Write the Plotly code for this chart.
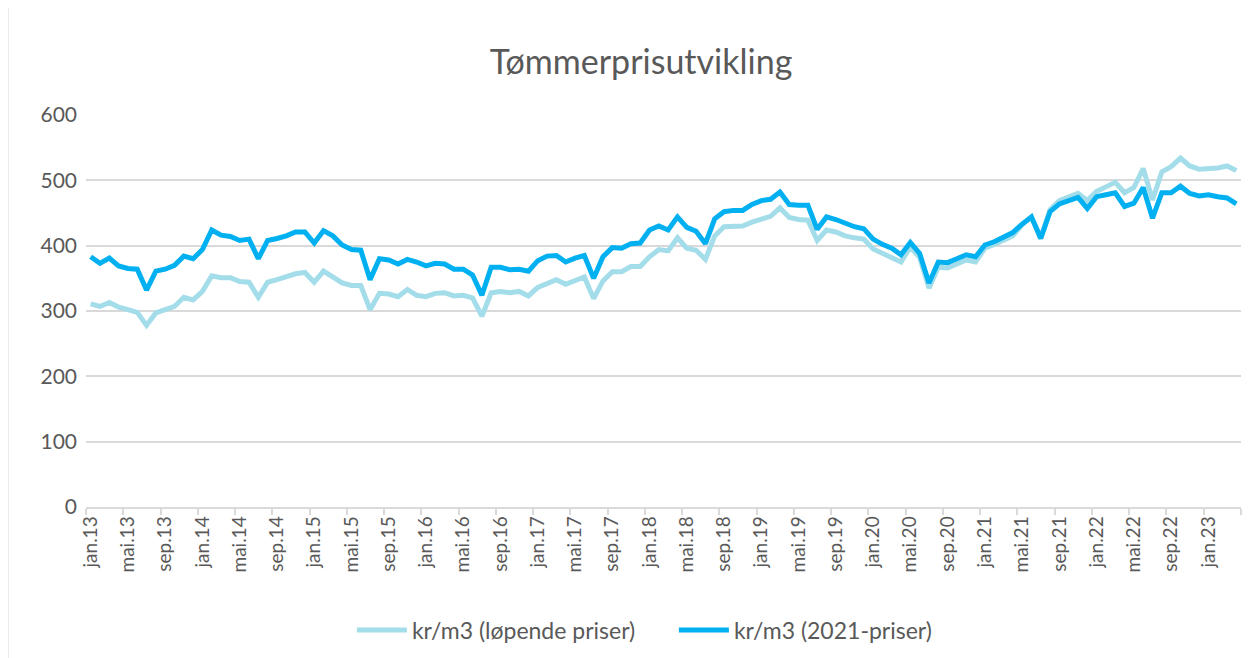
import plotly.graph_objects as go

MONTH_NAMES = ["jan", "feb", "mar", "apr", "mai", "jun", "jul", "aug", "sep", "okt", "nov", "des"]
YEARS = ["13", "14", "15", "16", "17", "18", "19", "20", "21", "22", "23"]
N_MONTHS = 124  # jan.13 .. apr.23
months = [f"{MONTH_NAMES[i % 12]}.{YEARS[i // 12]}" for i in range(N_MONTHS)]

lopende = [
    311, 307, 313, 306, 302, 298, 278, 297, 302, 307, 321, 317, 330, 354, 351, 351, 345, 344, 321, 344,
    348, 352, 357, 359, 344, 361, 353, 343, 339, 339, 302, 327, 326, 322, 333, 324, 322, 327, 328, 323,
    324, 320, 292, 328, 330, 328, 330, 323, 336, 343, 348, 341, 346, 352, 319, 346, 360, 360, 368, 368,
    383, 394, 392, 412, 396, 393, 379, 415, 429, 429, 430, 436, 441, 445, 458, 443, 440, 439, 408, 424,
    421, 415, 412, 410, 395, 388, 383, 375, 398, 382, 335, 367, 366, 373, 378, 375, 396, 402, 409, 415,
    432, 444, 413, 455, 469, 474, 480, 469, 483, 490, 497, 481, 489, 518, 470, 513, 521, 534, 522, 517,
    518, 519, 522, 515,
]
priser2021 = [
    383, 373, 381, 369, 365, 364, 332, 361, 364, 370, 384, 380, 394, 424, 416, 414, 408, 410, 380, 408,
    411, 415, 421, 421, 404, 423, 415, 401, 394, 393, 348, 380, 378, 372, 379, 375, 369, 373, 372, 364,
    364, 355, 324, 367, 367, 363, 364, 361, 377, 384, 385, 375, 381, 385, 350, 383, 397, 396, 403, 404,
    424, 430, 424, 444, 428, 422, 403, 441, 452, 454, 454, 463, 469, 471, 482, 463, 462, 462, 425, 444,
    440, 434, 429, 426, 410, 402, 396, 386, 405, 388, 343, 375, 374, 380, 386, 383, 401, 406, 413, 420,
    433, 444, 411, 452, 464, 470, 474, 457, 475, 478, 481, 460, 465, 489, 442, 481, 481, 491, 480, 476,
    478, 475, 473, 464,
]

SERIES_NAMES = ["kr/m3 (løpende priser)", "kr/m3 (2021-priser)"]
LIGHT = "#A4DDEA"
DARK = "#00B0F0"
TXT = "#595959"
FONT = "Lato, 'Open Sans', sans-serif"

fig = go.Figure()
fig.add_trace(go.Scatter(x=months, y=lopende, mode="lines", name=SERIES_NAMES[0],
                         line=dict(color=LIGHT, width=5)))
fig.add_trace(go.Scatter(x=months, y=priser2021, mode="lines", name=SERIES_NAMES[1],
                         line=dict(color=DARK, width=5)))

fig.update_layout(
    width=1250, height=650,
    margin=dict(l=78, r=17, t=107, b=151, autoexpand=False),
    paper_bgcolor="white", plot_bgcolor="white",
    font=dict(family=FONT, color=TXT, size=20),
    title=dict(text="Tømmerprisutvikling", x=0.5064, xanchor="center", y=0.917, yanchor="middle",
               font=dict(family=FONT, size=34, color=TXT)),
    showlegend=True,
    legend=dict(orientation="h", x=0.509, xanchor="center", y=-0.314, yanchor="middle",
                font=dict(size=23, color=TXT), itemwidth=50, traceorder="normal",
                entrywidth=257, entrywidthmode="pixels"),
    xaxis=dict(type="category", tickmode="linear", tick0=0, dtick=4, tickson="boundaries",
               ticks="outside", ticklen=6, tickcolor="#D9D9D9", tickwidth=1.5,
               showline=True, linecolor="#D9D9D9", linewidth=1.5, showgrid=False,
               tickangle=-90, tickfont=dict(size=19, color=TXT),
               range=[-0.5, N_MONTHS - 0.5], fixedrange=True),
    yaxis=dict(range=[0, 600], tickmode="linear", tick0=0, dtick=100,
               showgrid=True, gridcolor="#D9D9D9", gridwidth=1.5, zeroline=False,
               showline=False, ticks="", ticklabelstandoff=8,
               tickfont=dict(size=21, color=TXT), fixedrange=True),
    shapes=[dict(type="rect", xref="paper", yref="paper", x0=-0.0675, x1=1.0095, y0=-0.45, y1=1.288,
                 line=dict(color="#D9D9D9", width=1), layer="below")],
)

fig.write_html("out.html")
